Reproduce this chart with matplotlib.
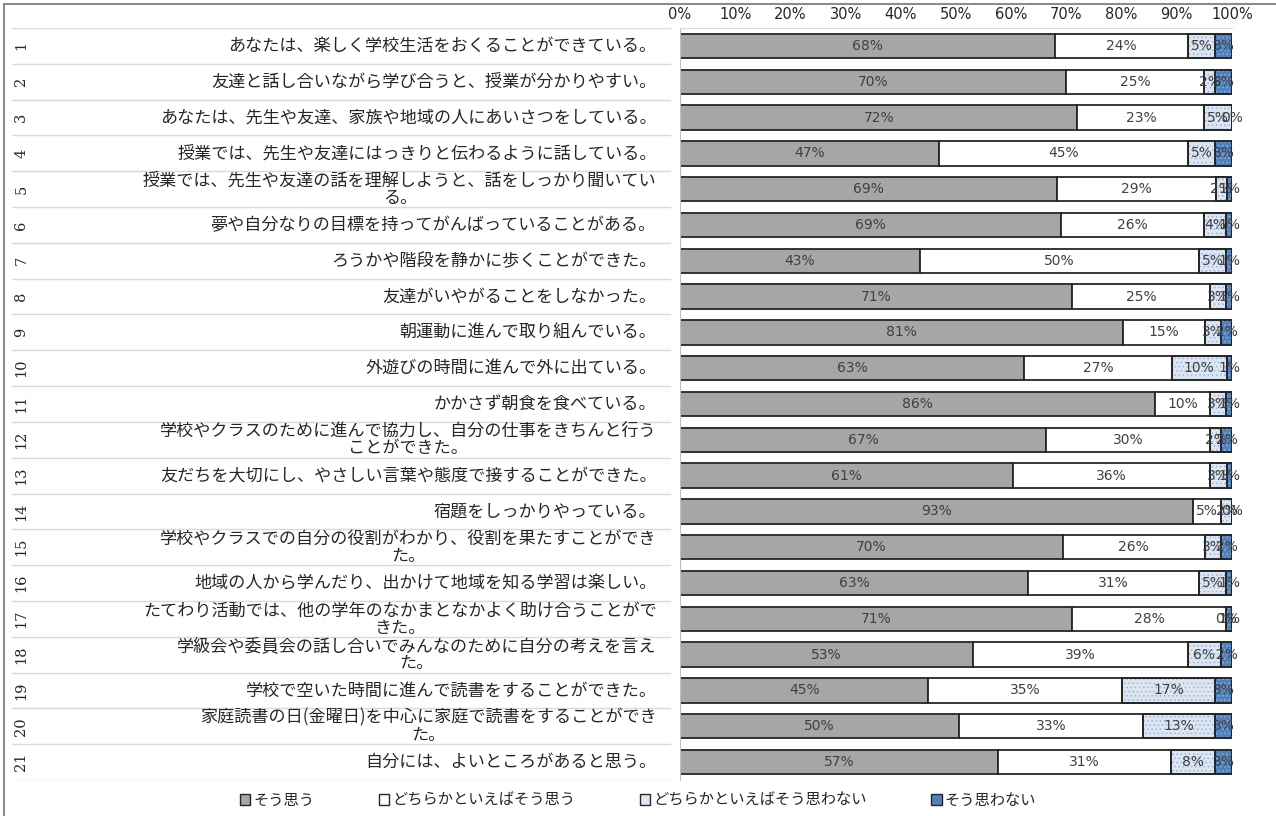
import matplotlib.pyplot as plt
from matplotlib.patches import Patch
from matplotlib.lines import Line2D
import numpy as np

plt.rcParams['font.family'] = ['Noto Sans CJK JP', 'DejaVu Sans']
plt.rcParams['hatch.linewidth'] = 0.6

# survey items
numbers = [str(i) for i in range(1, 22)]
questions = [
    'あなたは、楽しく学校生活をおくることができている。',
    '友達と話し合いながら学び合うと、授業が分かりやすい。',
    'あなたは、先生や友達、家族や地域の人にあいさつをしている。',
    '授業では、先生や友達にはっきりと伝わるように話している。',
    '授業では、先生や友達の話を理解しようと、話をしっかり聞いてい\nる。',
    '夢や自分なりの目標を持ってがんばっていることがある。',
    'ろうかや階段を静かに歩くことができた。',
    '友達がいやがることをしなかった。',
    '朝運動に進んで取り組んでいる。',
    '外遊びの時間に進んで外に出ている。',
    'かかさず朝食を食べている。',
    '学校やクラスのために進んで協力し、自分の仕事をきちんと行う\nことができた。',
    '友だちを大切にし、やさしい言葉や態度で接することができた。',
    '宿題をしっかりやっている。',
    '学校やクラスでの自分の役割がわかり、役割を果たすことができ\nた。',
    '地域の人から学んだり、出かけて地域を知る学習は楽しい。',
    'たてわり活動では、他の学年のなかまとなかよく助け合うことがで\nきた。',
    '学級会や委員会の話し合いでみんなのために自分の考えを言え\nた。',
    '学校で空いた時間に進んで読書をすることができた。',
    '家庭読書の日(金曜日)を中心に家庭で読書をすることができ\nた。',
    '自分には、よいところがあると思う。',
]

series_names = ['そう思う', 'どちらかといえばそう思う', 'どちらかといえばそう思わない', 'そう思わない']
agree = [68, 70, 72, 47, 69, 69, 43, 71, 81, 63, 86, 67, 61, 93, 70, 63, 71, 53, 45, 50, 57]
agree_some = [24, 25, 23, 45, 29, 26, 50, 25, 15, 27, 10, 30, 36, 5, 26, 31, 28, 39, 35, 33, 31]
disagree_some = [5, 2, 5, 5, 2, 4, 5, 3, 3, 10, 3, 2, 3, 2, 3, 5, 0, 6, 17, 13, 8]
disagree = [3, 3, 0, 3, 1, 1, 1, 1, 2, 1, 1, 2, 1, 0, 2, 1, 1, 2, 3, 3, 3]

W, H = 1276, 816
fig = plt.figure(figsize=(W / 100, H / 100), dpi=100)

top_px, bot_px = 28, 780
ax = fig.add_axes([680 / W, 1 - bot_px / H, 552 / W, (bot_px - top_px) / H])
tab = fig.add_axes([12 / W, 1 - bot_px / H, 668 / W, (bot_px - top_px) / H])

data = np.array([agree, agree_some, disagree_some, disagree], dtype=float)
totals = data.sum(axis=0)
widths = data / totals * 100
y = np.arange(1, 22)

faces = ['#A6A6A6', 'white', '#DCE6F2', '#4F81BD']
hatches = [None, None, '....', '....']
hatch_cols = [None, None, '#9DB5D6', '#8DB0DA']

left = np.zeros(21)
for k in range(4):
    ax.barh(y, widths[k], left=left, height=0.68, color=faces[k],
            edgecolor='#262626', linewidth=1.3, label=series_names[k])
    if hatches[k]:
        ax.barh(y, widths[k], left=left, height=0.68, color='none',
                edgecolor=hatch_cols[k], linewidth=0, hatch=hatches[k])
        ax.barh(y, widths[k], left=left, height=0.68, color='none',
                edgecolor='#262626', linewidth=1.3)
    for i in range(21):
        ax.text(left[i] + widths[k][i] / 2, y[i], '%d%%' % data[k][i],
                ha='center', va='center', fontsize=10, color='#404040',
                family='DejaVu Sans')
    left += widths[k]

ax.set_xlim(0, 100)
ax.set_ylim(21.5, 0.5)
ax.xaxis.tick_top()
ax.set_xticks(range(0, 101, 10))
ax.set_xticklabels(['%d%%' % t for t in range(0, 101, 10)], fontsize=10.5,
                   color='#262626', family='DejaVu Sans')
ax.tick_params(axis='x', length=0, pad=4)
ax.set_yticks([])
for s in ['right', 'bottom']:
    ax.spines[s].set_visible(False)
ax.spines['top'].set_color('#D9D9D9')
ax.spines['left'].set_color('#BFBFBF')

# left table: row numbers and questions
tab.set_xlim(0, 1)
tab.set_ylim(21.5, 0.5)
tab.axis('off')
for b in np.arange(0.5, 22, 1):
    tab.axhline(b, xmin=0.0, xmax=0.985, color='#D9D9D9', linewidth=1)
for i in range(21):
    tab.text(0.014, y[i], numbers[i], rotation=90, ha='center', va='center',
             fontsize=10.5, color='#262626', family='DejaVu Serif')
    tab.text(0.965, y[i], questions[i], ha='right', va='center', multialignment='center',
             fontsize=12.3, color='#262626', linespacing=0.95)

handles = [Patch(facecolor=faces[k], edgecolor='#262626', linewidth=1) for k in range(4)]
fig.legend(handles, series_names, loc='center', bbox_to_anchor=(0.5, 1 - 800 / H),
           ncol=4, frameon=False, fontsize=11, handlelength=0.7, handleheight=0.7,
           handletextpad=0.2, columnspacing=4.2, labelcolor='#262626')

# outer chart frame (left and top edges visible)
fig.add_artist(Line2D([4 / W, 4 / W], [0, 1 - 4 / H], transform=fig.transFigure,
                      color='#8C8C8C', linewidth=1.5))
fig.add_artist(Line2D([4 / W, 1], [1 - 4 / H, 1 - 4 / H], transform=fig.transFigure,
                      color='#8C8C8C', linewidth=1.5))

fig.savefig('out.png', dpi=100)
